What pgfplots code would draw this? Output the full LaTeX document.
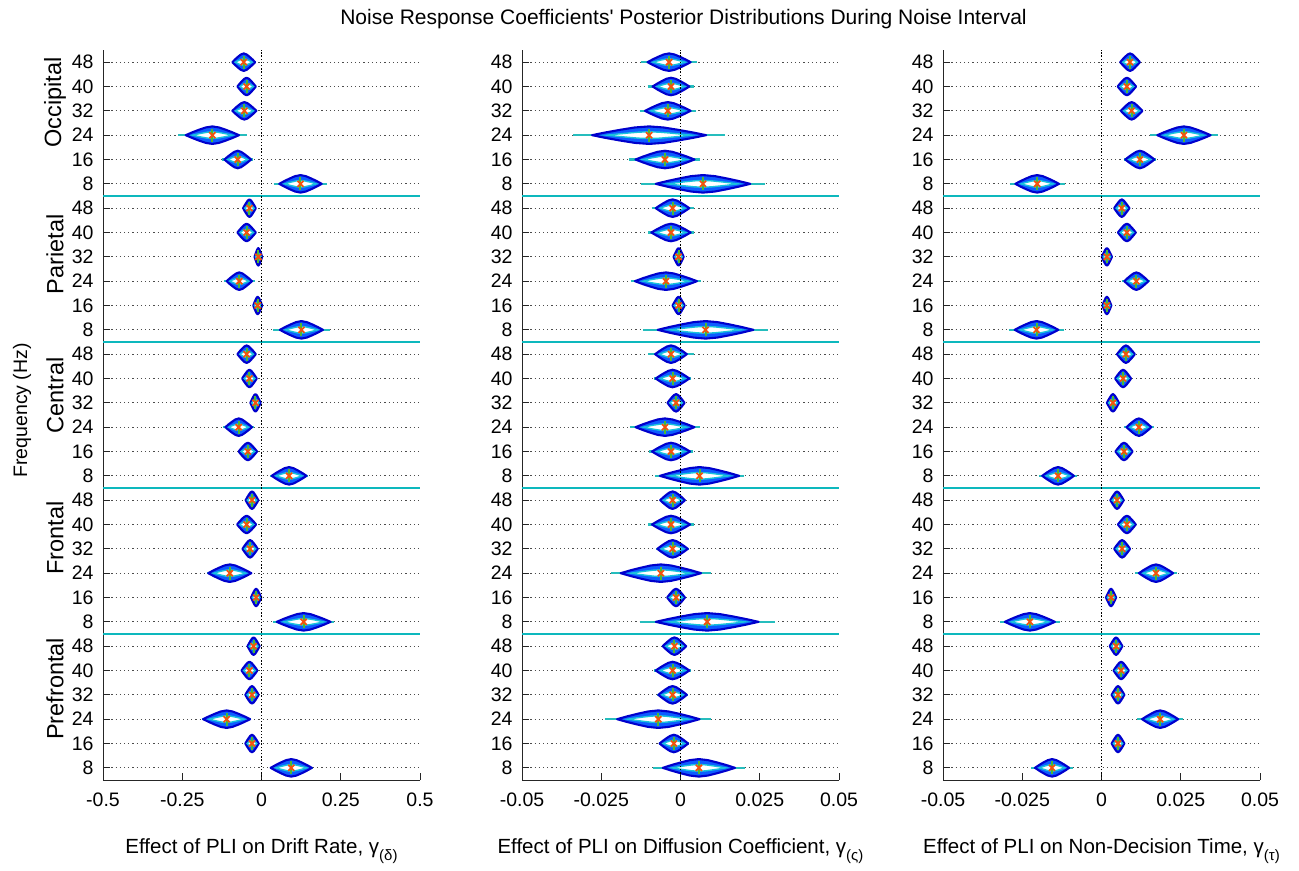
\documentclass[border=0pt]{standalone}
\usepackage{pgfplots}
\pgfplotsset{compat=1.18}
\usepackage{pgfplotstable}
\usepackage{fontspec}
\setmainfont{Liberation Sans}

\definecolor{edgeblue}{rgb}{0,0,0.8}
\definecolor{bodyblue}{rgb}{0.05,0.36,1}
\definecolor{ringcyan}{rgb}{0.1,0.76,0.86}
\definecolor{whisk}{rgb}{0.15,0.74,0.74}
\definecolor{sepcyan}{rgb}{0.05,0.72,0.74}
\definecolor{medgreen}{rgb}{0.3,0.72,0.2}
\definecolor{markred}{rgb}{0.96,0.32,0.05}

% posterior summaries: row (1 = Prefrontal 8 Hz ... 30 = Occipital 48 Hz),
% centre c, half width w of the density, half extent e of the interval
\pgfplotstableread{
y c w e
1   0.094 0.065 0.068
2  -0.030 0.021 0.021
3  -0.110 0.074 0.078
4  -0.030 0.021 0.021
5  -0.038 0.025 0.027
6  -0.025 0.019 0.019
7   0.133 0.085 0.097
8  -0.017 0.016 0.016
9  -0.100 0.068 0.071
10 -0.036 0.024 0.024
11 -0.047 0.030 0.030
12 -0.030 0.020 0.020
13  0.087 0.055 0.060
14 -0.043 0.029 0.029
15 -0.072 0.042 0.049
16 -0.019 0.016 0.016
17 -0.038 0.023 0.023
18 -0.047 0.029 0.029
19  0.126 0.068 0.089
20 -0.012 0.014 0.014
21 -0.070 0.040 0.049
22 -0.010 0.012 0.012
23 -0.047 0.029 0.030
24 -0.038 0.020 0.020
25  0.123 0.067 0.085
26 -0.075 0.042 0.049
27 -0.155 0.084 0.108
28 -0.054 0.038 0.040
29 -0.047 0.029 0.029
30 -0.056 0.036 0.038
}\driftdata

\pgfplotstableread{
y c w e
1   0.0058 0.0114 0.0146
2  -0.0021 0.0045 0.0048
3  -0.0070 0.0130 0.0167
4  -0.0025 0.0045 0.0048
5  -0.0025 0.0053 0.0058
6  -0.0019 0.0037 0.0037
7   0.0084 0.0162 0.0213
8  -0.0014 0.0028 0.0028
9  -0.0062 0.0127 0.0157
10 -0.0025 0.0048 0.0052
11 -0.0030 0.0060 0.0072
12 -0.0025 0.0039 0.0039
13  0.0060 0.0125 0.0140
14 -0.0030 0.0060 0.0068
15 -0.0049 0.0093 0.0110
16 -0.0014 0.0027 0.0027
17 -0.0025 0.0053 0.0058
18 -0.0030 0.0050 0.0072
19  0.0079 0.0151 0.0197
20 -0.0006 0.0019 0.0019
21 -0.0046 0.0098 0.0110
22 -0.0006 0.0016 0.0016
23 -0.0030 0.0062 0.0072
24 -0.0025 0.0053 0.0066
25  0.0071 0.0149 0.0195
26 -0.0049 0.0093 0.0112
27 -0.0099 0.0180 0.0240
28 -0.0040 0.0072 0.0088
29 -0.0030 0.0058 0.0074
30 -0.0036 0.0068 0.0088
}\diffdata

\pgfplotstableread{
y c w e
1  -0.0156 0.0054 0.0066
2   0.0052 0.0020 0.0020
3   0.0185 0.0057 0.0073
4   0.0052 0.0020 0.0020
5   0.0062 0.0024 0.0024
6   0.0046 0.0020 0.0020
7  -0.0226 0.0079 0.0095
8   0.0030 0.0016 0.0016
9   0.0172 0.0054 0.0066
10  0.0065 0.0025 0.0025
11  0.0080 0.0028 0.0028
12  0.0049 0.0021 0.0021
13 -0.0137 0.0050 0.0060
14  0.0071 0.0027 0.0027
15  0.0118 0.0039 0.0047
16  0.0036 0.0019 0.0019
17  0.0068 0.0025 0.0025
18  0.0077 0.0028 0.0028
19 -0.0205 0.0069 0.0088
20  0.0017 0.0014 0.0014
21  0.0110 0.0038 0.0044
22  0.0017 0.0016 0.0016
23  0.0080 0.0028 0.0028
24  0.0064 0.0024 0.0024
25 -0.0203 0.0069 0.0087
26  0.0121 0.0046 0.0050
27  0.0260 0.0084 0.0106
28  0.0095 0.0034 0.0034
29  0.0080 0.0029 0.0029
30  0.0090 0.0031 0.0031
}\ndtdata

% lens-shaped density outline: y, centre, half width, half height, style
\newcommand\lensshape[5]{%
  \pgfmathsetmacro\pA{#2-(#3)}\pgfmathsetmacro\pB{#2-0.75*(#3)}%
  \pgfmathsetmacro\pC{#2-0.5*(#3)}\pgfmathsetmacro\pD{#2-0.25*(#3)}%
  \pgfmathsetmacro\pE{#2+0.25*(#3)}\pgfmathsetmacro\pF{#2+0.5*(#3)}%
  \pgfmathsetmacro\pG{#2+0.75*(#3)}\pgfmathsetmacro\pH{#2+(#3)}%
  \pgfmathsetmacro\upA{#1+0.33*#4}\pgfmathsetmacro\upB{#1+0.62*#4}%
  \pgfmathsetmacro\upC{#1+0.88*#4}\pgfmathsetmacro\upD{#1+#4}%
  \pgfmathsetmacro\dnA{#1-0.33*#4}\pgfmathsetmacro\dnB{#1-0.62*#4}%
  \pgfmathsetmacro\dnC{#1-0.88*#4}\pgfmathsetmacro\dnD{#1-#4}%
  \addplot[#5] coordinates {(\pA,#1) (\pB,\upA) (\pC,\upB) (\pD,\upC) (#2,\upD)
    (\pE,\upC) (\pF,\upB) (\pG,\upA) (\pH,#1) (\pG,\dnA) (\pF,\dnB) (\pE,\dnC)
    (#2,\dnD) (\pD,\dnC) (\pC,\dnB) (\pB,\dnA)} -- cycle;
}

% one posterior: y, centre, half width, interval half extent
\newcommand\violin[4]{%
  \pgfmathsetmacro\wL{#2-#4}\pgfmathsetmacro\wR{#2+#4}%
  \addplot[whisk, line width=2.6bp] coordinates {(\wL,#1) (\wR,#1)};
  \lensshape{#1}{#2}{#3}{0.36}{draw=edgeblue, line width=2.1bp, fill=bodyblue, line join=round}
  \lensshape{#1}{#2}{0.74*#3}{0.14}{draw=ringcyan, line width=1.4bp, fill=white}
  \pgfmathsetmacro\gB{#1-0.27}\pgfmathsetmacro\gT{#1+0.27}%
  \addplot[medgreen, line width=2bp] coordinates {(#2,\gB) (#2,\gT)};
  \addplot[only marks, mark=x, mark size=4.3bp, markred, mark options={line width=1.8bp}] coordinates {(#2,#1)};
}

\newcommand\drawviolins[1]{%
  \pgfplotsinvokeforeach{0,...,29}{%
    \pgfplotstablegetelem{##1}{y}\of#1\let\vy\pgfplotsretval
    \pgfplotstablegetelem{##1}{c}\of#1\let\vc\pgfplotsretval
    \pgfplotstablegetelem{##1}{w}\of#1\let\vw\pgfplotsretval
    \pgfplotstablegetelem{##1}{e}\of#1\let\ve\pgfplotsretval
    \violin{\vy}{\vc}{\vw}{\ve}
  }%
}

\newcommand\sepline[2]{% region separators, xmin, xmax
  \addplot[sepcyan, line width=2.4bp] coordinates {(#1,6.5) (#2,6.5)};
  \addplot[sepcyan, line width=2.4bp] coordinates {(#1,12.5) (#2,12.5)};
  \addplot[sepcyan, line width=2.4bp] coordinates {(#1,18.5) (#2,18.5)};
  \addplot[sepcyan, line width=2.4bp] coordinates {(#1,24.5) (#2,24.5)};
}
\newcommand\zeroline{%
  \addplot[black, line width=1.3bp, dash pattern=on 1.4bp off 1.8bp] coordinates {(0,0.5) (0,30.5)};
}

\newcommand\sub[1]{\raisebox{-7bp}{\fontsize{15bp}{15bp}\selectfont #1}}

\pgfplotsset{
  panel/.style={
    scale only axis, width=317bp, height=730bp,
    ymin=0.5, ymax=30.5,
    axis x line*=bottom, axis y line*=left,
    axis line style={line width=0.9bp, black!85},
    tick align=inside, major tick length=7bp,
    tick style={line width=0.9bp, black!85},
    ytick={1,...,30},
    yticklabels={8,16,24,32,40,48,8,16,24,32,40,48,8,16,24,32,40,48,8,16,24,32,40,48,8,16,24,32,40,48},
    ymajorgrids,
    grid style={line width=1bp, black!70, dash pattern=on 1.2bp off 3bp},
    ticklabel style={font=\fontsize{19.5bp}{23bp}\selectfont},
    yticklabel style={xshift=-6bp},
    xticklabel style={yshift=-9bp},
    scaled x ticks=false,
    clip=false,
    xlabel style={font=\fontsize{20.5bp}{24bp}\selectfont, at={(axis description cs:0.5,-0.101)}, anchor=base},
  },
}

\begin{document}
\begin{tikzpicture}
\path[use as bounding box] (0,0) rectangle (1299bp,-871bp);

\node[font=\fontsize{21bp}{25bp}\selectfont, anchor=base] at (683.5bp,-24bp)
  {Noise Response Coefficients\textquotesingle{} Posterior Distributions During Noise Interval};

% drift rate
\begin{axis}[panel, at={(103bp,-780bp)}, anchor=south west,
  xmin=-0.5, xmax=0.5, xtick={-0.5,-0.25,0,0.25,0.5},
  xticklabels={-0.5,-0.25,0,0.25,0.5},
  xlabel={Effect of PLI on Drift Rate, γ\sub{(δ)}}]
  \sepline{-0.5}{0.5}
  \drawviolins{\driftdata}
  \zeroline
  \node[rotate=90, font=\fontsize{23.5bp}{27bp}\selectfont] at ([xshift=-48bp]axis cs:-0.5,28.35) {Occipital};
  \node[rotate=90, font=\fontsize{23.5bp}{27bp}\selectfont] at ([xshift=-48bp]axis cs:-0.5,22.1) {Parietal};
  \node[rotate=90, font=\fontsize{23.5bp}{27bp}\selectfont] at ([xshift=-48bp]axis cs:-0.5,16.3) {Central};
  \node[rotate=90, font=\fontsize{23.5bp}{27bp}\selectfont] at ([xshift=-48bp]axis cs:-0.5,10.45) {Frontal};
  \node[rotate=90, font=\fontsize{23.5bp}{27bp}\selectfont] at ([xshift=-48bp]axis cs:-0.5,4.25) {Prefrontal};
  \node[rotate=90, font=\fontsize{19.5bp}{23bp}\selectfont] at ([xshift=-81bp]axis cs:-0.5,15.69) {Frequency (Hz)};
\end{axis}

% diffusion coefficient
\begin{axis}[panel, at={(522bp,-780bp)}, anchor=south west,
  xmin=-0.05, xmax=0.05, xtick={-0.05,-0.025,0,0.025,0.05},
  xticklabels={-0.05,-0.025,0,0.025,0.05},
  xlabel={Effect of PLI on Diffusion Coefficient, γ\sub{(ς)}}]
  \sepline{-0.05}{0.05}
  \drawviolins{\diffdata}
  \zeroline
\end{axis}

% non-decision time
\begin{axis}[panel, at={(943bp,-780bp)}, anchor=south west,
  xmin=-0.05, xmax=0.05, xtick={-0.05,-0.025,0,0.025,0.05},
  xticklabels={-0.05,-0.025,0,0.025,0.05},
  xlabel={Effect of PLI on Non-Decision Time, γ\sub{(τ)}}]
  \sepline{-0.05}{0.05}
  \drawviolins{\ndtdata}
  \zeroline
\end{axis}
\end{tikzpicture}
\end{document}
